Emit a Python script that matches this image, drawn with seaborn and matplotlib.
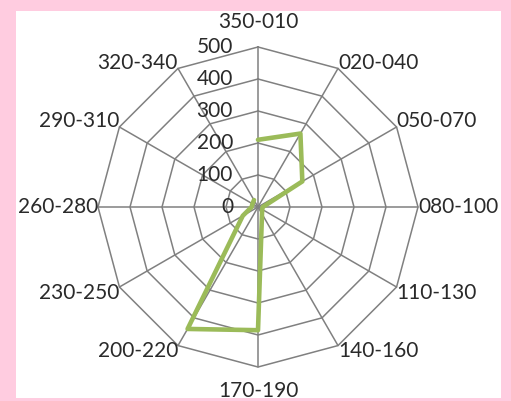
import numpy as np
import pandas as pd
import seaborn as sns
import matplotlib.pyplot as plt
from matplotlib.patches import Rectangle

sns.set_style("white")
plt.rcParams['font.family'] = ['Lato', 'DejaVu Sans']

# 风向扇区及对应频数
directions = ["350-010", "020-040", "050-070", "080-100", "110-130", "140-160",
              "170-190", "200-220", "230-250", "260-280", "290-310", "320-340"]
counts = [210, 265, 160, 15, 15, 25, 385, 440, 55, 20, 20, 25]
r_ticks = [0, 100, 200, 300, 400, 500]

text_color = "#2a2a2a"
grid_color = "#808080"
line_color = "#9bbb59"

n = len(directions)
theta = np.linspace(0, 2 * np.pi, n, endpoint=False)
theta_closed = np.append(theta, theta[0])

df = pd.DataFrame({"theta": theta_closed, "count": counts + counts[:1]})

fig = plt.figure(figsize=(5.11, 4.01), dpi=100, facecolor="#ffcce0")
fig.add_artist(Rectangle((16 / 511, 3 / 401), 485 / 511, 387 / 401,
                         transform=fig.transFigure, facecolor="white",
                         edgecolor="none", zorder=-5))

ax = fig.add_axes([98 / 511, 34 / 401, 320 / 511, 320 / 401], projection="polar")
ax.set_zorder(2)
ax.set_theta_zero_location("N")
ax.set_theta_direction(-1)
ax.patch.set_alpha(0)
ax.grid(False)
ax.spines["polar"].set_visible(False)
ax.set_xticks([])
ax.set_yticks([])
ax.set_ylim(0, r_ticks[-1])

# 多边形网格
for r in r_ticks[1:]:
    ax.plot(theta_closed, [r] * (n + 1), color=grid_color, lw=1.1, clip_on=False, zorder=1)
for t in theta:
    ax.plot([t, t], [0, r_ticks[-1]], color=grid_color, lw=1.1, clip_on=False, zorder=1)

# 数据折线
sns.lineplot(data=df, x="theta", y="count", sort=False, color=line_color,
             lw=3.3, ax=ax, zorder=3, clip_on=False)
ax.set_xlabel("")
ax.set_ylabel("")

# 径向刻度标签
for r in r_ticks:
    ax.annotate(str(r), xy=(0, r), xytext=(-18, 0), textcoords="offset points",
                ha="right", va="center", fontsize=15, color=text_color,
                annotation_clip=False)

# 扇区标签
for t, name in zip(theta, directions):
    s, c = np.sin(t), np.cos(t)
    if abs(s) < 0.1:
        ha = "center"
        dy = 18 if c > 0 else -17
    else:
        ha = "left" if s > 0 else "right"
        dy = 4 * np.sign(c) if abs(c) > 0.1 else 0
    ax.annotate(name, xy=(t, r_ticks[-1]), xytext=(0, dy), textcoords="offset points",
                ha=ha, va="center", fontsize=15, color=text_color,
                annotation_clip=False)

plt.savefig("out.png", dpi=100, facecolor=fig.get_facecolor())
